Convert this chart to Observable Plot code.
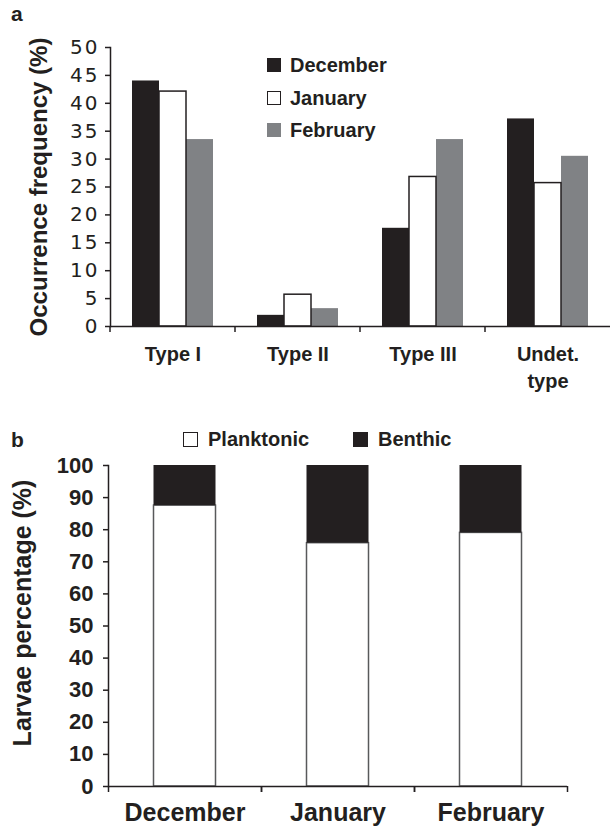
<!DOCTYPE html>
<html><head><meta charset="utf-8">
<script src="https://cdn.jsdelivr.net/npm/d3@7"></script>
<script src="https://cdn.jsdelivr.net/npm/@observablehq/plot@0.6"></script>
<style>
body{margin:0;background:#fff;}
#root{position:relative;width:611px;height:828px;overflow:hidden;font-family:"Liberation Sans",Arial,sans-serif;color:#231f20;}
#pa{position:absolute;left:0;top:0;}
#pb{position:absolute;left:0;top:400px;}
.lab{position:absolute;font-weight:bold;font-size:21px;line-height:22px;}
.leg{position:absolute;display:flex;align-items:center;font-weight:bold;white-space:nowrap;height:22px;line-height:22px;}
.sw{display:inline-block;box-sizing:border-box;}
</style></head><body><div id="root">
<div id="pa"></div><div id="pb"></div>
<div class="lab" style="left:11px;top:3px;">a</div>
<div class="lab" style="left:11px;top:429px;">b</div>
<div class="leg" style="left:267px;top:54px;font-size:20px;"><span class="sw" style="width:14px;height:14px;background:#231f20;margin-right:9px;"></span>December</div>
<div class="leg" style="left:267px;top:87px;font-size:20px;"><span class="sw" style="width:14px;height:14px;background:#fff;border:1.5px solid #231f20;margin-right:9px;"></span>January</div>
<div class="leg" style="left:267px;top:119px;font-size:20px;"><span class="sw" style="width:14px;height:14px;background:#808285;margin-right:9px;"></span>February</div>
<div class="leg" style="left:183px;top:428px;font-size:20px;"><span class="sw" style="width:15px;height:15px;background:#fff;border:1.5px solid #231f20;margin-right:10px;"></span>Planktonic</div>
<div class="leg" style="left:353px;top:428px;font-size:20px;"><span class="sw" style="width:15px;height:15px;background:#231f20;margin-right:10px;"></span>Benthic</div>
</div>
<script>
// Panel a data
const types = ["Type I", "Type II", "Type III", "Undet.\ntype"];
const months = ["December", "January", "February"];
const decemberA = [44.0, 2.0, 17.6, 37.2];
const januaryA = [42.1, 5.7, 26.8, 25.7];
const februaryA = [33.5, 3.2, 33.5, 30.5];
const yTicksA = [0, 5, 10, 15, 20, 25, 30, 35, 40, 45, 50];
// Panel b data
const planktonic = [87.5, 75.8, 79.0];
const benthic = [12.5, 24.2, 21.0];
const yTicksB = [0, 10, 20, 30, 40, 50, 60, 70, 80, 90, 100];

const monthColors = ["#231f20", "#ffffff", "#808285"];
const ink = "#231f20";

const seriesA = [decemberA, januaryA, februaryA];
const dataA = types.flatMap((t, i) => months.map((m, j) => ({type: t, month: m, value: seriesA[j][i]})));

const plotA = Plot.plot({
  width: 611, height: 395,
  marginLeft: 108, marginRight: 0, marginTop: 47, marginBottom: 69,
  style: {fontFamily: "Liberation Sans, Arial, sans-serif", color: ink, background: "transparent", overflow: "visible"},
  fx: {domain: types, padding: 0, label: null, axis: null},
  x: {domain: months, paddingInner: 0, paddingOuter: 0.75, axis: null},
  y: {domain: [0, 50], axis: null},
  color: {domain: months, range: monthColors},
  marks: [
    Plot.barY(dataA, {fx: "type", x: "month", y: "value", fill: "month"}),
    Plot.barY(dataA, {fx: "type", x: "month", y: "value", fill: "none", stroke: ink, strokeWidth: 1.5, filter: d => d.month === "January"}),
    Plot.ruleY([0], {stroke: ink, strokeWidth: 1.5}),
    Plot.frame({anchor: "left", facetAnchor: "left", stroke: ink, strokeWidth: 1.5}),
    Plot.axisY({ticks: yTicksA, tickSize: 5, tickPadding: 6, fontFamily: "DejaVu Sans", fontSize: 20, label: null, strokeWidth: 1.5}),
    Plot.axisY({ticks: [], label: "Occurrence frequency (%)", labelAnchor: "center", labelArrow: "none", labelOffset: 81, fontSize: 24, fontWeight: "bold"}),
    Plot.axisFx({anchor: "bottom", tickSize: 6, dx: -63, text: null, label: null, strokeWidth: 1.5}),
    Plot.axisFx({anchor: "bottom", tickSize: 0, tickPadding: 15, fontSize: 20, fontWeight: "bold", lineHeight: 1.35, label: null})
  ]
});
d3.select(plotA).selectAll('g[aria-label="y-axis tick label"] text').attr("letter-spacing", "2px");
document.getElementById("pa").appendChild(plotA);

const dataB = months.map((m, i) => ({month: m, p: planktonic[i], top: planktonic[i] + benthic[i]}));

const plotB = Plot.plot({
  width: 611, height: 428,
  marginLeft: 108, marginRight: 44, marginTop: 65, marginBottom: 42,
  style: {fontFamily: "Liberation Sans, Arial, sans-serif", color: ink, background: "transparent", overflow: "visible"},
  x: {domain: months, padding: 0, axis: null},
  y: {domain: [0, 100], axis: null},
  marks: [
    Plot.barY(dataB, {x: "month", y1: 0, y2: "p", fill: "#ffffff", stroke: "#58595b", strokeWidth: 1.5, insetLeft: 45.5, insetRight: 45.5}),
    Plot.barY(dataB, {x: "month", y1: "p", y2: "top", fill: ink, insetLeft: 45.5, insetRight: 45.5}),
    Plot.ruleY([0], {stroke: ink, strokeWidth: 1.5}),
    Plot.frame({anchor: "left", stroke: ink, strokeWidth: 1.5}),
    Plot.axisY({ticks: yTicksB, tickSize: 5, tickPadding: 10, fontSize: 22, fontWeight: "bold", label: null, strokeWidth: 1.5}),
    Plot.text(["Larvae percentage (%)"], {frameAnchor: "left", rotate: -90, dx: -95, dy: -13, lineAnchor: "top", textAnchor: "middle", fontSize: 25, fontWeight: "bold", fill: ink}),
    Plot.axisX({tickSize: 6, dx: -76.5, text: null, label: null, strokeWidth: 1.5}),
    Plot.axisX({tickSize: 6, dx: 76.5, text: null, label: null, strokeWidth: 1.5}),
    Plot.axisX({tickSize: 0, tickPadding: 17, fontSize: 25, fontWeight: "bold", label: null})
  ]
});
document.getElementById("pb").appendChild(plotB);
</script>
</body></html>
